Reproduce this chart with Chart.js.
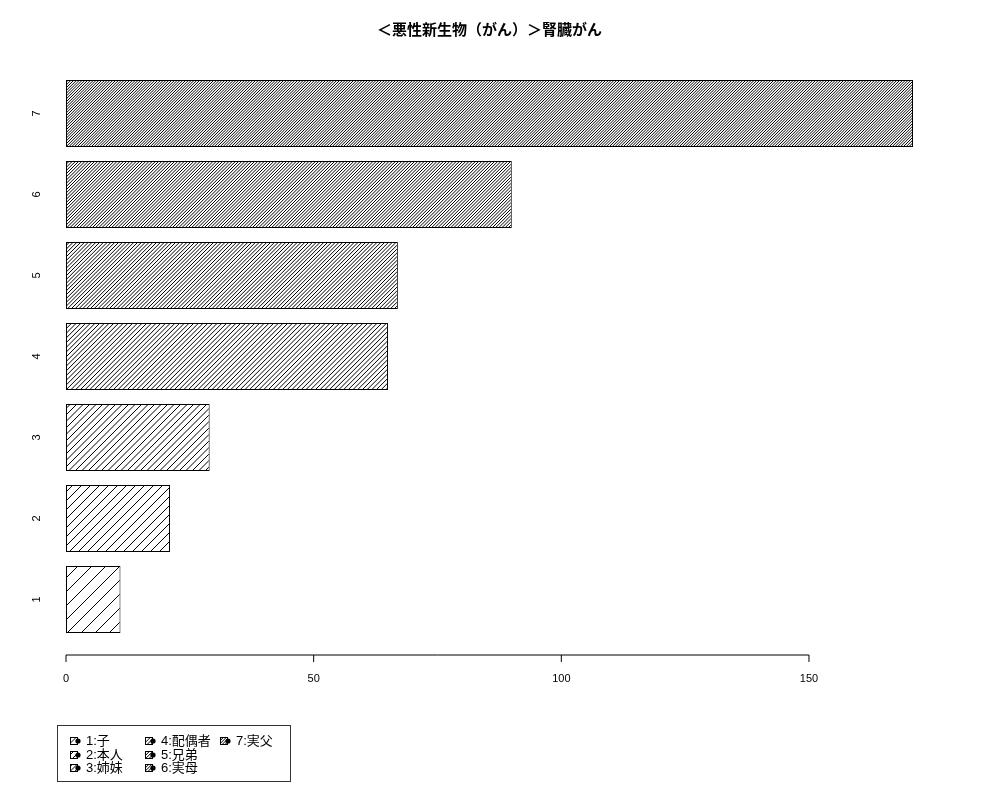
<!DOCTYPE html>
<html>
<head>
<meta charset="utf-8">
<script src="https://cdn.jsdelivr.net/npm/chart.js@4/dist/chart.umd.min.js"></script>
<style>
  html, body { margin: 0; padding: 0; background: #fff; }
  #wrap { position: relative; width: 1000px; height: 800px; }
  #legend { position: absolute; left: 57px; top: 725px; width: 234px; height: 57px; border: 1px solid #333; box-sizing: border-box; font-family: "Liberation Sans", "Noto Sans CJK JP", sans-serif; font-size: 13px; color: #000; }
  .item { position: absolute; height: 13px; line-height: 13px; white-space: nowrap; }
  .item canvas { position: absolute; left: 0; top: 2px; }
  .item span { position: absolute; left: 17px; top: 0; }
</style>
</head>
<body>
<div id="wrap">
  <canvas id="c" width="1000" height="800"></canvas>
  <div id="legend"></div>
</div>
<script>
// ---- data ----
const titleText = "＜悪性新生物（がん）＞腎臓がん";
const categories = ["1", "2", "3", "4", "5", "6", "7"];
const values = [11, 21, 29, 65, 67, 90, 171];
const legendLabels = ["1:子", "2:本人", "3:姉妹", "4:配偶者", "5:兄弟", "6:実母", "7:実父"];
const xTickValues = [0, 50, 100, 150];
// ---- style ----
const hatchSpacing = [14, 9, 6.5, 4.7, 3.8, 3.2, 2.8];
const FONT = '"Liberation Sans", "Noto Sans CJK JP", sans-serif';

function makeHatchCanvas(spacing) {
  let best = null;
  for (let n = 1; n <= 12; n++) {
    const T = Math.round(spacing * n);
    const err = Math.abs(T / n - spacing);
    if (!best || err < best.err - 1e-9) best = { n, T, err };
  }
  const { n, T } = best;
  const c = document.createElement('canvas');
  c.width = T; c.height = T;
  const g = c.getContext('2d');
  g.fillStyle = '#fff';
  g.fillRect(0, 0, T, T);
  g.strokeStyle = '#000';
  g.lineWidth = 1;
  g.beginPath();
  for (let i = 0; i < n; i++) {
    const o = i * T / n;
    for (const k of [-1, 0, 1]) {
      g.moveTo(o + k * T, T);
      g.lineTo(o + k * T + T, 0);
    }
  }
  g.stroke();
  return c;
}

const ctx = document.getElementById('c').getContext('2d');
const patterns = hatchSpacing.map(s => ctx.createPattern(makeHatchCanvas(s), 'repeat'));

const axisPlugin = {
  id: 'rAxis',
  afterDraw(chart) {
    const xs = chart.scales.x;
    const y0 = chart.chartArea.bottom + 15;
    const c = chart.ctx;
    c.save();
    c.strokeStyle = '#000';
    c.lineWidth = 1;
    c.beginPath();
    const xa = xs.getPixelForValue(xTickValues[0]);
    const xb = xs.getPixelForValue(xTickValues[xTickValues.length - 1]);
    c.moveTo(xa, y0);
    c.lineTo(xb, y0);
    for (const v of xTickValues) {
      const px = xs.getPixelForValue(v);
      c.moveTo(px, y0);
      c.lineTo(px, y0 + 7);
    }
    c.stroke();
    c.restore();
  }
};

new Chart(ctx, {
  type: 'bar',
  data: {
    labels: categories,
    datasets: [{
      data: values,
      backgroundColor: patterns,
      borderColor: '#000',
      borderWidth: 1,
      borderSkipped: false,
      barPercentage: 67 / 81,
      categoryPercentage: 1
    }]
  },
  options: {
    indexAxis: 'y',
    responsive: false,
    animation: false,
    devicePixelRatio: 1,
    layout: { padding: { left: 0, right: 87, top: 0, bottom: 100 } },
    plugins: {
      legend: { display: false },
      tooltip: { enabled: false },
      title: {
        display: true,
        fullSize: false,
        text: titleText,
        color: '#000',
        font: { size: 15, weight: 'bold', family: '"Noto Sans CJK JP", "Liberation Sans", sans-serif' },
        padding: { top: 20, bottom: 35 }
      }
    },
    scales: {
      x: {
        type: 'linear',
        min: 0,
        max: values[values.length - 1],
        grid: { display: false, drawTicks: false },
        border: { display: false },
        afterBuildTicks(scale) { scale.ticks = xTickValues.map(v => ({ value: v })); },
        afterFit(scale) { scale.height = 60; },
        ticks: { color: '#000', font: { size: 11, family: FONT }, padding: 32, maxRotation: 0, autoSkip: false }
      },
      y: {
        type: 'category',
        reverse: true,
        grid: { display: false, drawTicks: false },
        border: { display: false },
        afterFit(scale) { scale.width = 66; },
        ticks: { color: '#000', font: { size: 11, family: FONT }, minRotation: 90, maxRotation: 90, crossAlign: 'center', padding: 26 }
      }
    }
  },
  plugins: [axisPlugin]
});

// ---- legend (HTML) ----
const legend = document.getElementById('legend');
legendLabels.forEach((lab, i) => {
  const col = Math.floor(i / 3), row = i % 3;
  const d = document.createElement('div');
  d.className = 'item';
  d.style.left = (11 + col * 75) + 'px';
  d.style.top = (8 + row * 13.5) + 'px';
  const ic = document.createElement('canvas');
  ic.width = 13; ic.height = 10;
  const g = ic.getContext('2d');
  g.fillStyle = g.createPattern(makeHatchCanvas(hatchSpacing[i] * 0.5 + 1.5), 'repeat');
  g.fillRect(1, 1, 8, 8);
  g.strokeStyle = '#000';
  g.lineWidth = 1;
  g.strokeRect(1.5, 1.5, 7, 7);
  g.fillStyle = '#000';
  g.beginPath();
  g.arc(9, 5, 2.6, 0, Math.PI * 2);
  g.fill();
  d.appendChild(ic);
  const s = document.createElement('span');
  s.textContent = lab;
  d.appendChild(s);
  legend.appendChild(d);
});
</script>
</body>
</html>
